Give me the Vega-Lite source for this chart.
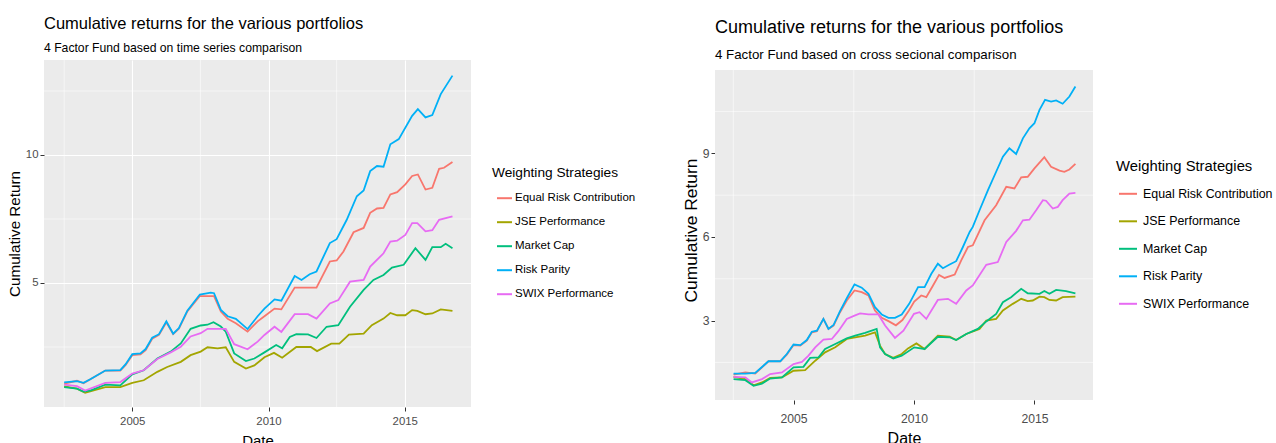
{
  "$schema": "https://vega.github.io/schema/vega-lite/v6.json",
  "background": "white",
  "padding": {"left": 7, "top": 16, "right": 0, "bottom": 0},
  "config": {
    "font": "Liberation Sans",
    "view": {"fill": "#EBEBEB", "stroke": null},
    "axis": {"domain": false, "grid": true, "gridColor": "white", "gridWidth": 1.1, "tickColor": "#333333", "tickSize": 4, "tickWidth": 1, "labelColor": "#4D4D4D", "labelPadding": 2, "titleColor": "black", "titleFontWeight": "normal"},
    "legend": {"symbolType": "stroke", "symbolStrokeWidth": 2, "titleFontWeight": "normal", "titleColor": "black", "labelColor": "black", "padding": 0, "orient": "none"}
  },
  "spacing": 46,
  "resolve": {"scale": {"x": "independent", "y": "independent", "color": "independent"}, "legend": {"color": "independent"}},
  "datasets": {
    "left": [
      {"s":"Equal Risk Contribution","t":2002.5,"v":1.07},{"s":"Equal Risk Contribution","t":2002.97,"v":1.18},{"s":"Equal Risk Contribution","t":2003.21,"v":1.08},{"s":"Equal Risk Contribution","t":2003.46,"v":1.24},{"s":"Equal Risk Contribution","t":2004.01,"v":1.58},{"s":"Equal Risk Contribution","t":2004.56,"v":1.58},{"s":"Equal Risk Contribution","t":2004.75,"v":1.79},{"s":"Equal Risk Contribution","t":2005.0,"v":2.18},{"s":"Equal Risk Contribution","t":2005.3,"v":2.21},{"s":"Equal Risk Contribution","t":2005.49,"v":2.38},{"s":"Equal Risk Contribution","t":2005.73,"v":2.82},{"s":"Equal Risk Contribution","t":2005.98,"v":2.97},{"s":"Equal Risk Contribution","t":2006.25,"v":3.46},{"s":"Equal Risk Contribution","t":2006.5,"v":3.0},{"s":"Equal Risk Contribution","t":2006.71,"v":3.21},{"s":"Equal Risk Contribution","t":2007.02,"v":3.89},{"s":"Equal Risk Contribution","t":2007.48,"v":4.49},{"s":"Equal Risk Contribution","t":2008.0,"v":4.49},{"s":"Equal Risk Contribution","t":2008.25,"v":3.89},{"s":"Equal Risk Contribution","t":2008.5,"v":3.6},{"s":"Equal Risk Contribution","t":2008.8,"v":3.43},{"s":"Equal Risk Contribution","t":2009.23,"v":3.1},{"s":"Equal Risk Contribution","t":2009.6,"v":3.5},{"s":"Equal Risk Contribution","t":2009.85,"v":3.7},{"s":"Equal Risk Contribution","t":2010.22,"v":4.0},{"s":"Equal Risk Contribution","t":2010.47,"v":3.97},{"s":"Equal Risk Contribution","t":2010.96,"v":4.82},{"s":"Equal Risk Contribution","t":2011.76,"v":4.82},{"s":"Equal Risk Contribution","t":2012.25,"v":5.84},{"s":"Equal Risk Contribution","t":2012.5,"v":5.88},{"s":"Equal Risk Contribution","t":2012.75,"v":6.23},{"s":"Equal Risk Contribution","t":2013.12,"v":6.98},{"s":"Equal Risk Contribution","t":2013.49,"v":7.15},{"s":"Equal Risk Contribution","t":2013.73,"v":7.74},{"s":"Equal Risk Contribution","t":2013.98,"v":7.91},{"s":"Equal Risk Contribution","t":2014.22,"v":7.93},{"s":"Equal Risk Contribution","t":2014.47,"v":8.46},{"s":"Equal Risk Contribution","t":2014.72,"v":8.55},{"s":"Equal Risk Contribution","t":2015.02,"v":8.85},{"s":"Equal Risk Contribution","t":2015.27,"v":9.18},{"s":"Equal Risk Contribution","t":2015.48,"v":9.24},{"s":"Equal Risk Contribution","t":2015.76,"v":8.65},{"s":"Equal Risk Contribution","t":2016.01,"v":8.72},{"s":"Equal Risk Contribution","t":2016.26,"v":9.46},{"s":"Equal Risk Contribution","t":2016.44,"v":9.5},{"s":"Equal Risk Contribution","t":2016.75,"v":9.73},
      {"s":"JSE Performance","t":2002.5,"v":0.96},{"s":"JSE Performance","t":2002.97,"v":0.87},{"s":"JSE Performance","t":2003.27,"v":0.71},{"s":"JSE Performance","t":2004.01,"v":0.93},{"s":"JSE Performance","t":2004.56,"v":0.93},{"s":"JSE Performance","t":2005.0,"v":1.1},{"s":"JSE Performance","t":2005.42,"v":1.2},{"s":"JSE Performance","t":2005.92,"v":1.53},{"s":"JSE Performance","t":2006.28,"v":1.72},{"s":"JSE Performance","t":2006.78,"v":1.92},{"s":"JSE Performance","t":2007.14,"v":2.18},{"s":"JSE Performance","t":2007.51,"v":2.32},{"s":"JSE Performance","t":2007.76,"v":2.49},{"s":"JSE Performance","t":2008.13,"v":2.45},{"s":"JSE Performance","t":2008.43,"v":2.49},{"s":"JSE Performance","t":2008.74,"v":1.92},{"s":"JSE Performance","t":2009.17,"v":1.66},{"s":"JSE Performance","t":2009.48,"v":1.78},{"s":"JSE Performance","t":2009.85,"v":2.1},{"s":"JSE Performance","t":2010.2,"v":2.27},{"s":"JSE Performance","t":2010.5,"v":2.08},{"s":"JSE Performance","t":2011.02,"v":2.5},{"s":"JSE Performance","t":2011.55,"v":2.5},{"s":"JSE Performance","t":2011.78,"v":2.34},{"s":"JSE Performance","t":2012.3,"v":2.63},{"s":"JSE Performance","t":2012.6,"v":2.63},{"s":"JSE Performance","t":2012.95,"v":2.98},{"s":"JSE Performance","t":2013.49,"v":3.02},{"s":"JSE Performance","t":2013.79,"v":3.35},{"s":"JSE Performance","t":2014.22,"v":3.61},{"s":"JSE Performance","t":2014.47,"v":3.83},{"s":"JSE Performance","t":2014.72,"v":3.74},{"s":"JSE Performance","t":2015.02,"v":3.74},{"s":"JSE Performance","t":2015.27,"v":3.94},{"s":"JSE Performance","t":2015.46,"v":3.91},{"s":"JSE Performance","t":2015.76,"v":3.78},{"s":"JSE Performance","t":2016.01,"v":3.81},{"s":"JSE Performance","t":2016.32,"v":3.97},{"s":"JSE Performance","t":2016.75,"v":3.91},
      {"s":"Market Cap","t":2002.5,"v":0.93},{"s":"Market Cap","t":2002.97,"v":0.87},{"s":"Market Cap","t":2003.21,"v":0.76},{"s":"Market Cap","t":2003.46,"v":0.8},{"s":"Market Cap","t":2004.01,"v":1.03},{"s":"Market Cap","t":2004.56,"v":1.0},{"s":"Market Cap","t":2005.0,"v":1.43},{"s":"Market Cap","t":2005.42,"v":1.59},{"s":"Market Cap","t":2005.92,"v":2.05},{"s":"Market Cap","t":2006.41,"v":2.32},{"s":"Market Cap","t":2006.78,"v":2.64},{"s":"Market Cap","t":2007.14,"v":3.21},{"s":"Market Cap","t":2007.51,"v":3.34},{"s":"Market Cap","t":2007.76,"v":3.37},{"s":"Market Cap","t":2007.98,"v":3.47},{"s":"Market Cap","t":2008.25,"v":3.3},{"s":"Market Cap","t":2008.43,"v":3.1},{"s":"Market Cap","t":2008.74,"v":2.25},{"s":"Market Cap","t":2009.17,"v":1.95},{"s":"Market Cap","t":2009.48,"v":2.05},{"s":"Market Cap","t":2009.85,"v":2.29},{"s":"Market Cap","t":2010.28,"v":2.58},{"s":"Market Cap","t":2010.5,"v":2.45},{"s":"Market Cap","t":2010.78,"v":2.89},{"s":"Market Cap","t":2011.02,"v":3.0},{"s":"Market Cap","t":2011.45,"v":2.99},{"s":"Market Cap","t":2011.76,"v":2.85},{"s":"Market Cap","t":2012.13,"v":3.29},{"s":"Market Cap","t":2012.56,"v":3.35},{"s":"Market Cap","t":2012.99,"v":4.07},{"s":"Market Cap","t":2013.49,"v":4.73},{"s":"Market Cap","t":2013.85,"v":5.12},{"s":"Market Cap","t":2014.22,"v":5.31},{"s":"Market Cap","t":2014.53,"v":5.6},{"s":"Market Cap","t":2014.96,"v":5.71},{"s":"Market Cap","t":2015.39,"v":6.36},{"s":"Market Cap","t":2015.76,"v":5.9},{"s":"Market Cap","t":2016.01,"v":6.4},{"s":"Market Cap","t":2016.32,"v":6.4},{"s":"Market Cap","t":2016.5,"v":6.53},{"s":"Market Cap","t":2016.75,"v":6.36},
      {"s":"Risk Parity","t":2002.5,"v":1.12},{"s":"Risk Parity","t":2002.97,"v":1.17},{"s":"Risk Parity","t":2003.21,"v":1.1},{"s":"Risk Parity","t":2003.46,"v":1.24},{"s":"Risk Parity","t":2004.01,"v":1.58},{"s":"Risk Parity","t":2004.56,"v":1.6},{"s":"Risk Parity","t":2004.75,"v":1.82},{"s":"Risk Parity","t":2005.0,"v":2.22},{"s":"Risk Parity","t":2005.3,"v":2.25},{"s":"Risk Parity","t":2005.49,"v":2.42},{"s":"Risk Parity","t":2005.73,"v":2.86},{"s":"Risk Parity","t":2005.98,"v":3.0},{"s":"Risk Parity","t":2006.25,"v":3.5},{"s":"Risk Parity","t":2006.5,"v":3.02},{"s":"Risk Parity","t":2006.71,"v":3.24},{"s":"Risk Parity","t":2007.02,"v":3.92},{"s":"Risk Parity","t":2007.48,"v":4.55},{"s":"Risk Parity","t":2007.88,"v":4.62},{"s":"Risk Parity","t":2008.0,"v":4.6},{"s":"Risk Parity","t":2008.25,"v":3.95},{"s":"Risk Parity","t":2008.5,"v":3.7},{"s":"Risk Parity","t":2008.8,"v":3.6},{"s":"Risk Parity","t":2009.23,"v":3.2},{"s":"Risk Parity","t":2009.6,"v":3.7},{"s":"Risk Parity","t":2009.85,"v":4.0},{"s":"Risk Parity","t":2010.22,"v":4.36},{"s":"Risk Parity","t":2010.47,"v":4.31},{"s":"Risk Parity","t":2010.96,"v":5.27},{"s":"Risk Parity","t":2011.21,"v":5.12},{"s":"Risk Parity","t":2011.51,"v":5.34},{"s":"Risk Parity","t":2011.76,"v":5.45},{"s":"Risk Parity","t":2012.25,"v":6.56},{"s":"Risk Parity","t":2012.5,"v":6.71},{"s":"Risk Parity","t":2012.87,"v":7.47},{"s":"Risk Parity","t":2013.24,"v":8.39},{"s":"Risk Parity","t":2013.49,"v":8.61},{"s":"Risk Parity","t":2013.73,"v":9.37},{"s":"Risk Parity","t":2013.98,"v":9.57},{"s":"Risk Parity","t":2014.22,"v":9.54},{"s":"Risk Parity","t":2014.47,"v":10.42},{"s":"Risk Parity","t":2014.78,"v":10.62},{"s":"Risk Parity","t":2015.27,"v":11.53},{"s":"Risk Parity","t":2015.48,"v":11.79},{"s":"Risk Parity","t":2015.76,"v":11.47},{"s":"Risk Parity","t":2016.01,"v":11.56},{"s":"Risk Parity","t":2016.32,"v":12.38},{"s":"Risk Parity","t":2016.75,"v":13.1},
      {"s":"SWIX Performance","t":2002.5,"v":1.03},{"s":"SWIX Performance","t":2002.97,"v":0.97},{"s":"SWIX Performance","t":2003.27,"v":0.8},{"s":"SWIX Performance","t":2004.01,"v":1.1},{"s":"SWIX Performance","t":2004.56,"v":1.13},{"s":"SWIX Performance","t":2005.0,"v":1.46},{"s":"SWIX Performance","t":2005.42,"v":1.59},{"s":"SWIX Performance","t":2005.92,"v":2.03},{"s":"SWIX Performance","t":2006.41,"v":2.29},{"s":"SWIX Performance","t":2006.78,"v":2.51},{"s":"SWIX Performance","t":2007.14,"v":2.91},{"s":"SWIX Performance","t":2007.51,"v":3.04},{"s":"SWIX Performance","t":2007.76,"v":3.21},{"s":"SWIX Performance","t":2008.43,"v":3.21},{"s":"SWIX Performance","t":2008.74,"v":2.61},{"s":"SWIX Performance","t":2009.23,"v":2.41},{"s":"SWIX Performance","t":2009.6,"v":2.71},{"s":"SWIX Performance","t":2009.85,"v":2.97},{"s":"SWIX Performance","t":2010.22,"v":3.29},{"s":"SWIX Performance","t":2010.47,"v":3.09},{"s":"SWIX Performance","t":2010.96,"v":3.78},{"s":"SWIX Performance","t":2011.45,"v":3.78},{"s":"SWIX Performance","t":2011.76,"v":3.61},{"s":"SWIX Performance","t":2012.25,"v":4.2},{"s":"SWIX Performance","t":2012.56,"v":4.33},{"s":"SWIX Performance","t":2012.99,"v":5.05},{"s":"SWIX Performance","t":2013.49,"v":5.12},{"s":"SWIX Performance","t":2013.73,"v":5.64},{"s":"SWIX Performance","t":2014.22,"v":6.16},{"s":"SWIX Performance","t":2014.47,"v":6.62},{"s":"SWIX Performance","t":2014.72,"v":6.65},{"s":"SWIX Performance","t":2015.02,"v":6.88},{"s":"SWIX Performance","t":2015.27,"v":7.34},{"s":"SWIX Performance","t":2015.46,"v":7.34},{"s":"SWIX Performance","t":2015.76,"v":7.02},{"s":"SWIX Performance","t":2016.01,"v":7.06},{"s":"SWIX Performance","t":2016.26,"v":7.47},{"s":"SWIX Performance","t":2016.75,"v":7.6}
    ],
    "right": [
      {"s":"Equal Risk Contribution","t":2002.51,"v":1.06},{"s":"Equal Risk Contribution","t":2003.0,"v":1.14},{"s":"Equal Risk Contribution","t":2003.41,"v":1.1},{"s":"Equal Risk Contribution","t":2003.96,"v":1.54},{"s":"Equal Risk Contribution","t":2004.45,"v":1.54},{"s":"Equal Risk Contribution","t":2004.72,"v":1.78},{"s":"Equal Risk Contribution","t":2005.0,"v":2.12},{"s":"Equal Risk Contribution","t":2005.28,"v":2.1},{"s":"Equal Risk Contribution","t":2005.55,"v":2.28},{"s":"Equal Risk Contribution","t":2005.76,"v":2.58},{"s":"Equal Risk Contribution","t":2005.97,"v":2.62},{"s":"Equal Risk Contribution","t":2006.24,"v":3.06},{"s":"Equal Risk Contribution","t":2006.45,"v":2.7},{"s":"Equal Risk Contribution","t":2006.66,"v":2.82},{"s":"Equal Risk Contribution","t":2006.93,"v":3.3},{"s":"Equal Risk Contribution","t":2007.21,"v":3.72},{"s":"Equal Risk Contribution","t":2007.53,"v":4.08},{"s":"Equal Risk Contribution","t":2007.83,"v":4.02},{"s":"Equal Risk Contribution","t":2008.11,"v":3.9},{"s":"Equal Risk Contribution","t":2008.38,"v":3.36},{"s":"Equal Risk Contribution","t":2008.66,"v":3.1},{"s":"Equal Risk Contribution","t":2008.94,"v":2.98},{"s":"Equal Risk Contribution","t":2009.25,"v":2.83},{"s":"Equal Risk Contribution","t":2009.52,"v":3.02},{"s":"Equal Risk Contribution","t":2009.79,"v":3.36},{"s":"Equal Risk Contribution","t":2010.01,"v":3.68},{"s":"Equal Risk Contribution","t":2010.3,"v":3.9},{"s":"Equal Risk Contribution","t":2010.51,"v":3.84},{"s":"Equal Risk Contribution","t":2010.79,"v":4.26},{"s":"Equal Risk Contribution","t":2011.04,"v":4.64},{"s":"Equal Risk Contribution","t":2011.27,"v":4.53},{"s":"Equal Risk Contribution","t":2011.69,"v":4.65},{"s":"Equal Risk Contribution","t":2011.96,"v":5.16},{"s":"Equal Risk Contribution","t":2012.24,"v":5.64},{"s":"Equal Risk Contribution","t":2012.44,"v":5.7},{"s":"Equal Risk Contribution","t":2012.93,"v":6.6},{"s":"Equal Risk Contribution","t":2013.41,"v":7.14},{"s":"Equal Risk Contribution","t":2013.83,"v":7.8},{"s":"Equal Risk Contribution","t":2014.17,"v":7.74},{"s":"Equal Risk Contribution","t":2014.45,"v":8.14},{"s":"Equal Risk Contribution","t":2014.72,"v":8.16},{"s":"Equal Risk Contribution","t":2015.0,"v":8.46},{"s":"Equal Risk Contribution","t":2015.41,"v":8.86},{"s":"Equal Risk Contribution","t":2015.69,"v":8.52},{"s":"Equal Risk Contribution","t":2016.04,"v":8.38},{"s":"Equal Risk Contribution","t":2016.24,"v":8.34},{"s":"Equal Risk Contribution","t":2016.45,"v":8.42},{"s":"Equal Risk Contribution","t":2016.7,"v":8.62},
      {"s":"JSE Performance","t":2002.51,"v":0.98},{"s":"JSE Performance","t":2003.0,"v":0.9},{"s":"JSE Performance","t":2003.34,"v":0.68},{"s":"JSE Performance","t":2003.69,"v":0.78},{"s":"JSE Performance","t":2004.03,"v":0.94},{"s":"JSE Performance","t":2004.52,"v":0.96},{"s":"JSE Performance","t":2005.0,"v":1.2},{"s":"JSE Performance","t":2005.48,"v":1.22},{"s":"JSE Performance","t":2005.9,"v":1.56},{"s":"JSE Performance","t":2006.31,"v":1.86},{"s":"JSE Performance","t":2006.73,"v":2.04},{"s":"JSE Performance","t":2007.21,"v":2.34},{"s":"JSE Performance","t":2007.56,"v":2.4},{"s":"JSE Performance","t":2007.97,"v":2.46},{"s":"JSE Performance","t":2008.38,"v":2.58},{"s":"JSE Performance","t":2008.59,"v":2.1},{"s":"JSE Performance","t":2008.8,"v":1.8},{"s":"JSE Performance","t":2009.14,"v":1.66},{"s":"JSE Performance","t":2009.49,"v":1.8},{"s":"JSE Performance","t":2009.75,"v":2.0},{"s":"JSE Performance","t":2010.1,"v":2.18},{"s":"JSE Performance","t":2010.44,"v":1.98},{"s":"JSE Performance","t":2010.99,"v":2.46},{"s":"JSE Performance","t":2011.48,"v":2.42},{"s":"JSE Performance","t":2011.75,"v":2.3},{"s":"JSE Performance","t":2012.17,"v":2.52},{"s":"JSE Performance","t":2012.72,"v":2.7},{"s":"JSE Performance","t":2013.0,"v":3.0},{"s":"JSE Performance","t":2013.41,"v":3.06},{"s":"JSE Performance","t":2013.69,"v":3.36},{"s":"JSE Performance","t":2014.1,"v":3.6},{"s":"JSE Performance","t":2014.45,"v":3.78},{"s":"JSE Performance","t":2014.72,"v":3.7},{"s":"JSE Performance","t":2014.93,"v":3.72},{"s":"JSE Performance","t":2015.21,"v":3.86},{"s":"JSE Performance","t":2015.41,"v":3.84},{"s":"JSE Performance","t":2015.62,"v":3.74},{"s":"JSE Performance","t":2015.9,"v":3.72},{"s":"JSE Performance","t":2016.17,"v":3.84},{"s":"JSE Performance","t":2016.7,"v":3.86},
      {"s":"Market Cap","t":2002.51,"v":0.9},{"s":"Market Cap","t":2003.0,"v":0.86},{"s":"Market Cap","t":2003.34,"v":0.66},{"s":"Market Cap","t":2003.69,"v":0.74},{"s":"Market Cap","t":2004.03,"v":0.92},{"s":"Market Cap","t":2004.52,"v":0.96},{"s":"Market Cap","t":2005.0,"v":1.32},{"s":"Market Cap","t":2005.41,"v":1.34},{"s":"Market Cap","t":2005.69,"v":1.66},{"s":"Market Cap","t":2006.04,"v":1.68},{"s":"Market Cap","t":2006.31,"v":1.98},{"s":"Market Cap","t":2006.73,"v":2.16},{"s":"Market Cap","t":2007.21,"v":2.36},{"s":"Market Cap","t":2007.56,"v":2.46},{"s":"Market Cap","t":2007.97,"v":2.56},{"s":"Market Cap","t":2008.45,"v":2.7},{"s":"Market Cap","t":2008.59,"v":2.04},{"s":"Market Cap","t":2008.8,"v":1.8},{"s":"Market Cap","t":2009.14,"v":1.64},{"s":"Market Cap","t":2009.49,"v":1.74},{"s":"Market Cap","t":2010.01,"v":2.04},{"s":"Market Cap","t":2010.44,"v":1.98},{"s":"Market Cap","t":2010.99,"v":2.42},{"s":"Market Cap","t":2011.48,"v":2.4},{"s":"Market Cap","t":2011.75,"v":2.3},{"s":"Market Cap","t":2012.17,"v":2.52},{"s":"Market Cap","t":2012.65,"v":2.7},{"s":"Market Cap","t":2013.0,"v":2.97},{"s":"Market Cap","t":2013.41,"v":3.24},{"s":"Market Cap","t":2013.69,"v":3.66},{"s":"Market Cap","t":2014.03,"v":3.84},{"s":"Market Cap","t":2014.45,"v":4.14},{"s":"Market Cap","t":2014.72,"v":3.98},{"s":"Market Cap","t":2015.21,"v":3.96},{"s":"Market Cap","t":2015.41,"v":4.06},{"s":"Market Cap","t":2015.62,"v":3.96},{"s":"Market Cap","t":2015.9,"v":4.1},{"s":"Market Cap","t":2016.31,"v":4.06},{"s":"Market Cap","t":2016.7,"v":3.98},
      {"s":"Risk Parity","t":2002.51,"v":1.1},{"s":"Risk Parity","t":2003.0,"v":1.1},{"s":"Risk Parity","t":2003.41,"v":1.12},{"s":"Risk Parity","t":2003.96,"v":1.54},{"s":"Risk Parity","t":2004.45,"v":1.54},{"s":"Risk Parity","t":2004.72,"v":1.8},{"s":"Risk Parity","t":2005.0,"v":2.14},{"s":"Risk Parity","t":2005.28,"v":2.12},{"s":"Risk Parity","t":2005.55,"v":2.3},{"s":"Risk Parity","t":2005.76,"v":2.6},{"s":"Risk Parity","t":2005.97,"v":2.64},{"s":"Risk Parity","t":2006.24,"v":3.06},{"s":"Risk Parity","t":2006.45,"v":2.7},{"s":"Risk Parity","t":2006.66,"v":2.84},{"s":"Risk Parity","t":2006.93,"v":3.34},{"s":"Risk Parity","t":2007.21,"v":3.8},{"s":"Risk Parity","t":2007.53,"v":4.3},{"s":"Risk Parity","t":2007.83,"v":4.18},{"s":"Risk Parity","t":2008.11,"v":3.96},{"s":"Risk Parity","t":2008.38,"v":3.48},{"s":"Risk Parity","t":2008.66,"v":3.22},{"s":"Risk Parity","t":2008.94,"v":3.1},{"s":"Risk Parity","t":2009.21,"v":3.1},{"s":"Risk Parity","t":2009.49,"v":3.22},{"s":"Risk Parity","t":2009.8,"v":3.6},{"s":"Risk Parity","t":2010.17,"v":4.2},{"s":"Risk Parity","t":2010.44,"v":4.2},{"s":"Risk Parity","t":2010.72,"v":4.68},{"s":"Risk Parity","t":2010.99,"v":5.04},{"s":"Risk Parity","t":2011.2,"v":4.88},{"s":"Risk Parity","t":2011.48,"v":5.01},{"s":"Risk Parity","t":2011.75,"v":5.13},{"s":"Risk Parity","t":2012.03,"v":5.64},{"s":"Risk Parity","t":2012.31,"v":6.18},{"s":"Risk Parity","t":2012.44,"v":6.36},{"s":"Risk Parity","t":2012.72,"v":6.96},{"s":"Risk Parity","t":2013.07,"v":7.68},{"s":"Risk Parity","t":2013.41,"v":8.34},{"s":"Risk Parity","t":2013.69,"v":8.88},{"s":"Risk Parity","t":2013.96,"v":9.18},{"s":"Risk Parity","t":2014.24,"v":8.98},{"s":"Risk Parity","t":2014.52,"v":9.54},{"s":"Risk Parity","t":2014.79,"v":9.9},{"s":"Risk Parity","t":2015.0,"v":10.08},{"s":"Risk Parity","t":2015.21,"v":10.56},{"s":"Risk Parity","t":2015.44,"v":10.92},{"s":"Risk Parity","t":2015.69,"v":10.86},{"s":"Risk Parity","t":2015.9,"v":10.9},{"s":"Risk Parity","t":2016.17,"v":10.78},{"s":"Risk Parity","t":2016.45,"v":11.04},{"s":"Risk Parity","t":2016.7,"v":11.4},
      {"s":"SWIX Performance","t":2002.51,"v":0.98},{"s":"SWIX Performance","t":2003.0,"v":0.96},{"s":"SWIX Performance","t":2003.27,"v":0.78},{"s":"SWIX Performance","t":2003.69,"v":0.9},{"s":"SWIX Performance","t":2004.03,"v":1.08},{"s":"SWIX Performance","t":2004.52,"v":1.14},{"s":"SWIX Performance","t":2005.0,"v":1.44},{"s":"SWIX Performance","t":2005.35,"v":1.52},{"s":"SWIX Performance","t":2005.62,"v":1.74},{"s":"SWIX Performance","t":2005.9,"v":2.04},{"s":"SWIX Performance","t":2006.24,"v":2.32},{"s":"SWIX Performance","t":2006.59,"v":2.34},{"s":"SWIX Performance","t":2006.86,"v":2.62},{"s":"SWIX Performance","t":2007.21,"v":3.06},{"s":"SWIX Performance","t":2007.53,"v":3.18},{"s":"SWIX Performance","t":2007.76,"v":3.26},{"s":"SWIX Performance","t":2008.11,"v":3.22},{"s":"SWIX Performance","t":2008.52,"v":3.22},{"s":"SWIX Performance","t":2008.8,"v":2.82},{"s":"SWIX Performance","t":2009.21,"v":2.38},{"s":"SWIX Performance","t":2009.56,"v":2.64},{"s":"SWIX Performance","t":2010.0,"v":3.24},{"s":"SWIX Performance","t":2010.23,"v":3.3},{"s":"SWIX Performance","t":2010.51,"v":3.06},{"s":"SWIX Performance","t":2010.99,"v":3.74},{"s":"SWIX Performance","t":2011.41,"v":3.78},{"s":"SWIX Performance","t":2011.75,"v":3.6},{"s":"SWIX Performance","t":2012.17,"v":4.08},{"s":"SWIX Performance","t":2012.44,"v":4.26},{"s":"SWIX Performance","t":2013.0,"v":5.0},{"s":"SWIX Performance","t":2013.48,"v":5.1},{"s":"SWIX Performance","t":2013.83,"v":5.82},{"s":"SWIX Performance","t":2014.24,"v":6.22},{"s":"SWIX Performance","t":2014.52,"v":6.6},{"s":"SWIX Performance","t":2014.79,"v":6.62},{"s":"SWIX Performance","t":2015.07,"v":6.96},{"s":"SWIX Performance","t":2015.35,"v":7.32},{"s":"SWIX Performance","t":2015.48,"v":7.3},{"s":"SWIX Performance","t":2015.76,"v":7.02},{"s":"SWIX Performance","t":2015.97,"v":7.08},{"s":"SWIX Performance","t":2016.17,"v":7.32},{"s":"SWIX Performance","t":2016.45,"v":7.56},{"s":"SWIX Performance","t":2016.7,"v":7.58}
    ]
  },
  "hconcat": [
    {
      "width": 427,
      "height": 347,
      "title": {"text": "Cumulative returns for the various portfolios", "subtitle": "4 Factor Fund based on time series comparison", "anchor": "start", "frame": "group", "fontSize": 16.5, "fontWeight": "normal", "color": "black", "subtitleFontSize": 12.2, "subtitleColor": "black", "subtitlePadding": 9, "offset": 6},
      "layer": [
        {
          "data": {"values": [{"g": 2002.5}, {"g": 2007.5}, {"g": 2012.5}]},
          "mark": {"type": "rule", "color": "white", "strokeWidth": 0.55},
          "encoding": {"x": {"field": "g", "type": "quantitative", "title": "Date", "scale": {"domain": [2001.76, 2017.43], "nice": false, "zero": false}, "axis": {"values": [2005, 2010, 2015], "format": "d", "labelFontSize": 11.4, "titleFontSize": 15, "titlePadding": 7, "labelPadding": 4}}}
        },
        {
          "data": {"values": [{"g": 2.5}, {"g": 7.5}, {"g": 12.5}]},
          "mark": {"type": "rule", "color": "white", "strokeWidth": 0.55},
          "encoding": {"y": {"field": "g", "type": "quantitative", "title": "Cumulative Return", "scale": {"domain": [0.156, 13.71], "nice": false, "zero": false}, "axis": {"values": [5, 10], "labelFontSize": 11.4, "titleFontSize": 15.2, "titlePadding": 3}}}
        },
        {
          "data": {"name": "left"},
          "mark": {"type": "line", "strokeWidth": 1.8},
          "encoding": {
            "x": {"field": "t", "type": "quantitative", "title": "Date", "scale": {"domain": [2001.76, 2017.43], "nice": false, "zero": false}, "axis": {"values": [2005, 2010, 2015], "format": "d", "labelFontSize": 11.4, "titleFontSize": 15, "titlePadding": 7, "labelPadding": 4}},
            "y": {"field": "v", "type": "quantitative", "title": "Cumulative Return", "scale": {"domain": [0.156, 13.71], "nice": false, "zero": false}, "axis": {"values": [5, 10], "labelFontSize": 11.4, "titleFontSize": 15.2, "titlePadding": 3}},
            "color": {"field": "s", "type": "nominal", "title": "Weighting Strategies",
              "scale": {"domain": ["Equal Risk Contribution", "JSE Performance", "Market Cap", "Risk Parity", "SWIX Performance"], "range": ["#F8766D", "#A3A500", "#00BF7D", "#00B0F6", "#E76BF3"]},
              "legend": {"legendX": 448, "legendY": 106, "titleFontSize": 13.7, "labelFontSize": 11.5, "symbolSize": 225, "symbolOffset": 4, "rowPadding": 10, "titlePadding": 10, "labelOffset": 2}}
          }
        }
      ]
    },
    {
      "width": 378,
      "height": 340,
      "view": {"fill": null, "stroke": null},
      "title": {"text": "Cumulative returns for the various portfolios", "subtitle": "4 Factor Fund based on cross secional comparison", "anchor": "start", "frame": "group", "fontSize": 18, "fontWeight": "normal", "color": "black", "subtitleFontSize": 13.3, "subtitleColor": "black", "subtitlePadding": 11, "offset": -2},
      "layer": [
        {
          "data": {"values": [{}]},
          "mark": {"type": "rect", "fill": "#EBEBEB"},
          "encoding": {
            "x": {"datum": 2001.74, "type": "quantitative", "title": "Date", "scale": {"domain": [2001.74, 2017.43], "nice": false, "zero": false}, "axis": {"values": [2005, 2010, 2015], "format": "d", "labelFontSize": 12.2, "titleFontSize": 16, "titlePadding": 6, "labelPadding": 8}},
            "x2": {"datum": 2017.43},
            "y": {"datum": 0.15, "type": "quantitative", "title": "Cumulative Return", "scale": {"domain": [0.15, 12.35], "nice": false, "zero": false}, "axis": {"values": [3, 6, 9], "labelFontSize": 12.2, "titleFontSize": 17.4, "titlePadding": 2}},
            "y2": {"datum": 11.99}
          }
        },
        {
          "data": {"values": [{"g": 2002.5}, {"g": 2007.5}, {"g": 2012.5}]},
          "mark": {"type": "rule", "color": "white", "strokeWidth": 0.55},
          "encoding": {"x": {"field": "g", "type": "quantitative", "title": "Date", "scale": {"domain": [2001.74, 2017.43], "nice": false, "zero": false}, "axis": {"values": [2005, 2010, 2015], "format": "d", "labelFontSize": 12.2, "titleFontSize": 16, "titlePadding": 6, "labelPadding": 8}}}
        },
        {
          "data": {"values": [{"g": 1.5}, {"g": 4.5}, {"g": 7.5}, {"g": 10.5}]},
          "mark": {"type": "rule", "color": "white", "strokeWidth": 0.55},
          "encoding": {"y": {"field": "g", "type": "quantitative", "title": "Cumulative Return", "scale": {"domain": [0.15, 12.35], "nice": false, "zero": false}, "axis": {"values": [3, 6, 9], "labelFontSize": 12.2, "titleFontSize": 17.4, "titlePadding": 2}}}
        },
        {
          "data": {"name": "right"},
          "mark": {"type": "line", "strokeWidth": 1.8},
          "encoding": {
            "x": {"field": "t", "type": "quantitative", "title": "Date", "scale": {"domain": [2001.74, 2017.43], "nice": false, "zero": false}, "axis": {"values": [2005, 2010, 2015], "format": "d", "labelFontSize": 12.2, "titleFontSize": 16, "titlePadding": 6, "labelPadding": 8}},
            "y": {"field": "v", "type": "quantitative", "title": "Cumulative Return", "scale": {"domain": [0.15, 12.35], "nice": false, "zero": false}, "axis": {"values": [3, 6, 9], "labelFontSize": 12.2, "titleFontSize": 17.4, "titlePadding": 2}},
            "color": {"field": "s", "type": "nominal", "title": "Weighting Strategies",
              "scale": {"domain": ["Equal Risk Contribution", "JSE Performance", "Market Cap", "Risk Parity", "SWIX Performance"], "range": ["#F8766D", "#A3A500", "#00BF7D", "#00B0F6", "#E76BF3"]},
              "legend": {"legendX": 401, "legendY": 99, "titleFontSize": 14.8, "labelFontSize": 12.4, "symbolSize": 324, "symbolOffset": 2, "rowPadding": 10.5, "titlePadding": 10, "labelOffset": 5}}
          }
        }
      ]
    }
  ]
}
